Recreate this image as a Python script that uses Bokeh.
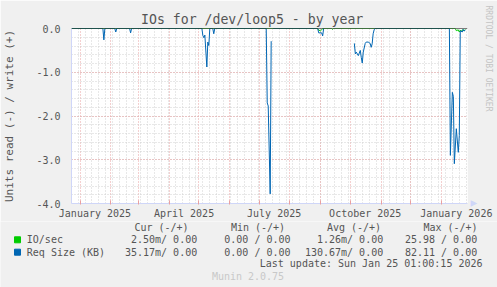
import numpy as np
import pandas as pd
from datetime import datetime, timedelta
from bokeh.plotting import figure
from bokeh.layouts import column
from bokeh.models import (ColumnDataSource, Range1d, FixedTicker, PrintfTickFormatter,
                          Span, Title)
from bokeh.core.properties import value
from bokeh.embed import file_html
from bokeh.resources import INLINE

# ---------------- data (read side, plotted negative) ----------------
req_dates = ["2024-12-23", "2025-01-24", "2025-01-25", "2025-01-26",
             "2025-02-05", "2025-02-06", "2025-02-07",
             "2025-02-20", "2025-02-21", "2025-02-22",
             "2025-05-04", "2025-05-05", "2025-05-06", "2025-05-07", "2025-05-09",
             "2025-05-10", "2025-05-11", "2025-05-12",
             "2025-05-15", "2025-05-16", "2025-05-17",
             "2025-07-08", "2025-07-09", "2025-07-10", "2025-07-12", "2025-07-13",
             "2025-07-14", "2025-07-15",
             "2025-08-29", "2025-08-30", "2025-09-02", "2025-09-03", "2025-09-04",
             "2025-10-04",
             "2025-10-05", "2025-10-06", "2025-10-07", "2025-10-09", "2025-10-11",
             "2025-10-12", "2025-10-13", "2025-10-14", "2025-10-16", "2025-10-17",
             "2025-10-19", "2025-10-21", "2025-10-22", "2025-10-23", "2025-10-24",
             "2025-10-25", "2025-10-26",
             "2026-01-09", "2026-01-10", "2026-01-12", "2026-01-13", "2026-01-14",
             "2026-01-16", "2026-01-18", "2026-01-19", "2026-01-20", "2026-01-22",
             "2026-01-23", "2026-01-24", "2026-01-25"]
req_read = [0, 0, 0.26, 0,
            0, 0.08, 0,
            0, 0.10, 0,
            0, 0.16, 0.21, 0.15, 0.88,
            0.31, 0.39, 0,
            0, 0.12, 0,
            0, 1.70, 1.77, 3.78, 0.29,
            np.nan, 0,
            0, 0.10, 0.10, 0.17, 0,
            np.nan,
            0.34, 0.58, 0.54, 0.62, 0.50,
            0.66, 0.79, 0.54, 0.34, 0.31,
            0.31, 0.34, 0.43, 0.35, 0.12,
            0.03, 0,
            0, 2.90, 1.46, 1.55, 3.09,
            2.29, 2.83, 2.45, 0.05, 0.08,
            0.02, 0.06, 0.03]

io_dates = ["2024-12-23", "2025-08-29", "2025-08-30", "2025-09-01", "2025-09-02",
            "2025-09-03", "2025-09-12", "2025-09-13", "2025-09-14",
            "2026-01-15", "2026-01-16", "2026-01-18", "2026-01-19", "2026-01-20",
            "2026-01-21", "2026-01-22", "2026-01-24", "2026-01-25"]
io_read = [0, 0, 0.04, 0.05, 0.03,
           0, 0, 0.02, 0,
           0, 0.05, 0.03, 0.08, 0.04,
           0.07, 0.03, 0.05, 0.02]

tick_labels = ["January 2025", "April 2025", "July 2025", "October 2025", "January 2026"]
tick_months = ["2025-01-01", "2025-04-01", "2025-07-01", "2025-10-01", "2026-01-01"]

legend_names = ["IO/sec", "Req Size (KB)"]
legend_colors = ["#00CC00", "#0066B3"]
col_headers = ["Cur (-/+)", "Min (-/+)", "Avg (-/+)", "Max (-/+)"]
cur_vals = ["2.50m/ 0.00", "35.17m/ 0.00"]
min_vals = ["0.00 / 0.00", "0.00 / 0.00"]
avg_vals = ["1.26m/ 0.00", "130.67m/ 0.00"]
max_vals = ["25.98 / 0.00", "82.11 / 0.00"]

# ---------------- main figure ----------------
FONT = "DejaVu Sans Mono"
TXT = "#555555"
BG = "#F0F0F0"
AXIS = "#CFD6F8"


def ms(d):
    return pd.Timestamp(d).value / 1e6


x_start = datetime(2024, 12, 23, 7, 12)
x_end = x_start + timedelta(days=400)

p = figure(width=497, height=221, x_axis_type="datetime",
           x_range=Range1d(x_start, x_end), y_range=Range1d(-4.0, 0.0),
           min_border_left=67, min_border_right=30, min_border_top=28, min_border_bottom=18,
           background_fill_color="#FFFFFF", border_fill_color=BG,
           outline_line_color=None, output_backend="svg", toolbar_location=None,
           frame_align=False)

# x-axis arrow head (closest right panel to the frame)
p.add_layout(Title(text="\u25B2", align="right", offset=-3.3, standoff=0,
                   text_font=FONT, text_font_size="11px", text_font_style="normal",
                   text_color=AXIS), "right")

p.title.text = "IOs for /dev/loop5 - by year"
p.title.align = "left"
p.title.offset = 69.5
p.title.standoff = 4
p.title.text_font = FONT
p.title.text_font_size = "13.2px"
p.title.text_font_style = "normal"
p.title.text_color = TXT

p.add_layout(Title(text="RRDTOOL / TOBI OETIKER", align="left", offset=-23, standoff=3,
                   text_font=FONT, text_font_size="8px", text_font_style="normal",
                   text_color="#C4C4C4"), "right")

# grids
month_starts = pd.date_range("2024-12-01", "2026-02-01", freq="MS")
week_starts = pd.date_range("2024-12-01", "2026-02-28", freq="W-MON")
p.xgrid.ticker = FixedTicker(ticks=[ms(d) for d in month_starts],
                             minor_ticks=[ms(d) for d in week_starts])
p.xgrid.grid_line_color = "#E8A0A0"
p.xgrid.grid_line_dash = "1 2"
p.xgrid.minor_grid_line_color = "#D0D0D0"
p.xgrid.minor_grid_line_dash = "1 2"

yt = FixedTicker(ticks=[-4, -3, -2, -1, 0],
                 minor_ticks=[round(v, 1) for v in np.arange(-4.0, 0.01, 0.2)])
p.yaxis.ticker = yt
p.ygrid.ticker = yt
p.ygrid.grid_line_color = "#E8A0A0"
p.ygrid.grid_line_dash = "1 2"
p.ygrid.minor_grid_line_color = "#D0D0D0"
p.ygrid.minor_grid_line_dash = "1 2"

# x axis: labels centred mid-month, tick marks at month starts
label_pos = [ms(pd.Timestamp(m) + pd.Timedelta(days=15)) for m in tick_months]
p.xaxis.ticker = FixedTicker(ticks=label_pos, minor_ticks=[ms(d) for d in month_starts])
p.xaxis.major_label_overrides = {v: t for v, t in zip(label_pos, tick_labels)}
p.xaxis.major_tick_line_color = None
p.xaxis.major_tick_out = 0
p.xaxis.major_tick_in = 0
p.xaxis.minor_tick_line_color = "#E8A0A0"
p.xaxis.minor_tick_in = 3
p.xaxis.minor_tick_out = 1
p.xaxis.major_label_standoff = 3

p.yaxis.formatter = PrintfTickFormatter(format="%.1f")
p.yaxis.major_tick_line_color = None
p.yaxis.minor_tick_line_color = None
p.yaxis.major_tick_out = 0
p.yaxis.major_tick_in = 0
p.yaxis.major_label_standoff = 7
p.yaxis.axis_label = "Units read (-) / write (+)"
p.yaxis.axis_label_standoff = 17
p.yaxis.axis_label_text_font = FONT
p.yaxis.axis_label_text_font_size = "11px"
p.yaxis.axis_label_text_font_style = "normal"
p.yaxis.axis_label_text_color = TXT

for ax in (p.xaxis, p.yaxis):
    ax.axis_line_color = AXIS
    ax.major_label_text_font = FONT
    ax.major_label_text_font_size = "10px"
    ax.major_label_text_color = TXT

# series
io_src = ColumnDataSource(dict(x=pd.to_datetime(io_dates), y=-np.array(io_read, dtype=float)))
req_src = ColumnDataSource(dict(x=pd.to_datetime(req_dates), y=-np.array(req_read, dtype=float)))
p.line("x", "y", source=io_src, line_color=legend_colors[0], line_width=1)
p.line("x", "y", source=req_src, line_color=legend_colors[1], line_width=1)
p.add_layout(Span(location=0, dimension="width", line_color="black", line_width=1))

# ---------------- legend figure (canvas coords, y downward, origin at y=221) ----------------
b = figure(width=497, height=66, x_range=Range1d(0, 497), y_range=Range1d(66, 0),
           min_border=0, x_axis_location=None, y_axis_location=None,
           background_fill_color=BG, border_fill_color=BG, outline_line_color=None,
           output_backend="svg", toolbar_location=None, frame_align=False)
b.xgrid.visible = False
b.ygrid.visible = False

Y0 = 221


def txt(xs, ys, texts, align, color=TXT, size="10px"):
    b.text(x=xs, y=[y - Y0 for y in ys], text=texts, text_font=value(FONT),
           text_font_size=value(size), text_align=value(align), text_baseline=value("middle"),
           text_color=color)


txt([161, 257.5, 353.5, 450], [227.3] * 4, col_headers, "center")
rows_y = [239.3, 251.7]
b.rect(x=[17, 17], y=[y - Y0 for y in rows_y], width=6, height=6,
       fill_color=legend_colors, line_color=legend_colors)
txt([26.3, 26.3], rows_y, legend_names, "left")
txt([196.7, 196.7], rows_y, cur_vals, "right")
txt([290, 290], rows_y, min_vals, "right")
txt([382.7, 382.7], rows_y, avg_vals, "right")
txt([476.7, 476.7], rows_y, max_vals, "right")
txt([482], [263.3], ["Last update: Sun Jan 25 01:00:15 2026"], "right")
txt([247.5], [276], ["Munin 2.0.75"], "center", color="#C8C8C8")

layout = column(p, b, spacing=0)
open("out.html", "w").write(file_html(layout, INLINE))
